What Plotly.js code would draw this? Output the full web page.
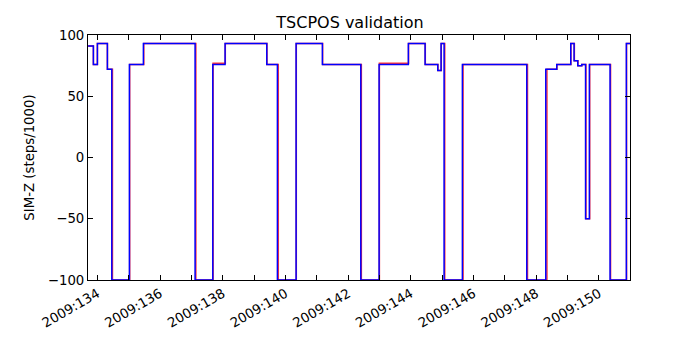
<!DOCTYPE html>
<html>
<head>
<meta charset="utf-8">
<script src="https://cdn.plot.ly/plotly-3.0.1.min.js"></script>
<style>
  html, body { margin: 0; padding: 0; background: #fff; }
  #myPlot { width: 700px; height: 350px; }
</style>
</head>
<body>
<div id="myPlot"></div>
<script>
// day-of-year where SIM-Z changes, and the step value that starts there
const blueTime = [133.703, 133.872, 134.000, 134.319, 134.459, 135.021, 135.467, 137.116, 137.681, 138.073,
  139.403, 139.742, 140.338, 141.177, 142.402, 142.986, 143.920, 144.453, 144.858, 144.963,
  145.059, 145.643, 147.697, 148.303, 148.654, 149.100, 149.206, 149.324, 149.451, 149.572,
  149.694, 150.354, 150.874, 150.992];
const blueVal = [91, 76, 93, 72, -100, 76, 93, -100, 76, 93,
  76, -100, 93, 76, -100, 76, 93, 76, 71, 93,
  -100, 76, -100, 72, 76, 93, 79, 75, 76, -50,
  76, -100, 93, 93];

const redTime = [133.703, 133.872, 134.000, 134.319, 134.480, 135.030, 135.480, 137.140, 137.690, 138.080,
  139.410, 139.770, 140.345, 141.185, 142.420, 142.995, 143.925, 144.460, 144.865, 144.970,
  145.080, 145.665, 147.720, 148.340, 148.660, 149.105, 149.215, 149.330, 149.455, 149.585,
  149.705, 150.370, 150.880, 150.992];
const redVal = [91, 76, 93, 72, -100, 76, 93, -100, 77, 93,
  76, -100, 93, 76, -100, 77, 93, 76, 71, 93,
  -100, 76, -100, 72, 76, 93, 79, 75, 76, -50,
  76, -100, 93, 93];

const tickDays = [134, 135, 136, 137, 138, 139, 140, 141, 142, 143, 144, 145, 146, 147, 148, 149, 150];
const tickLabels = ['2009:134', '', '2009:136', '', '2009:138', '', '2009:140', '', '2009:142', '',
  '2009:144', '', '2009:146', '', '2009:148', '', '2009:150'];
const yTicks = [-100, -50, 0, 50, 100];

const redTrace = {x: redTime, y: redVal, mode: 'lines', line: {shape: 'hv', color: 'red', width: 1.5}, opacity: 0.8};
const blueTrace = {x: blueTime, y: blueVal, mode: 'lines', line: {shape: 'hv', color: 'blue', width: 1.5}};

const axisStyle = {
  showline: true, linecolor: 'black', linewidth: 1, mirror: 'ticks',
  ticks: 'inside', ticklen: 5, tickcolor: 'black', tickwidth: 1,
  showgrid: false, zeroline: false,
  tickfont: {family: 'DejaVu Sans', size: 13.3, color: 'black'}
};

const layout = {
  width: 700, height: 350,
  margin: {l: 88, r: 70, t: 35, b: 70},
  paper_bgcolor: 'white', plot_bgcolor: 'white',
  showlegend: false,
  font: {family: 'DejaVu Sans', color: 'black'},
  title: {text: 'TSCPOS validation', font: {family: 'DejaVu Sans', size: 16, color: 'black'},
    x: 0.5, xanchor: 'center', y: 0.935, yanchor: 'middle'},
  xaxis: Object.assign({}, axisStyle, {
    range: [133.70, 150.99], tickmode: 'array', tickvals: tickDays, ticktext: tickLabels, tickangle: -30
  }),
  yaxis: Object.assign({}, axisStyle, {
    range: [-100, 100], tickmode: 'array', tickvals: yTicks,
    title: {text: 'SIM-Z (steps/1000)', font: {family: 'DejaVu Sans', size: 13.3, color: 'black'}, standoff: 10}
  })
};

Plotly.newPlot('myPlot', [redTrace, blueTrace], layout, {staticPlot: true, displayModeBar: false});
</script>
</body>
</html>
